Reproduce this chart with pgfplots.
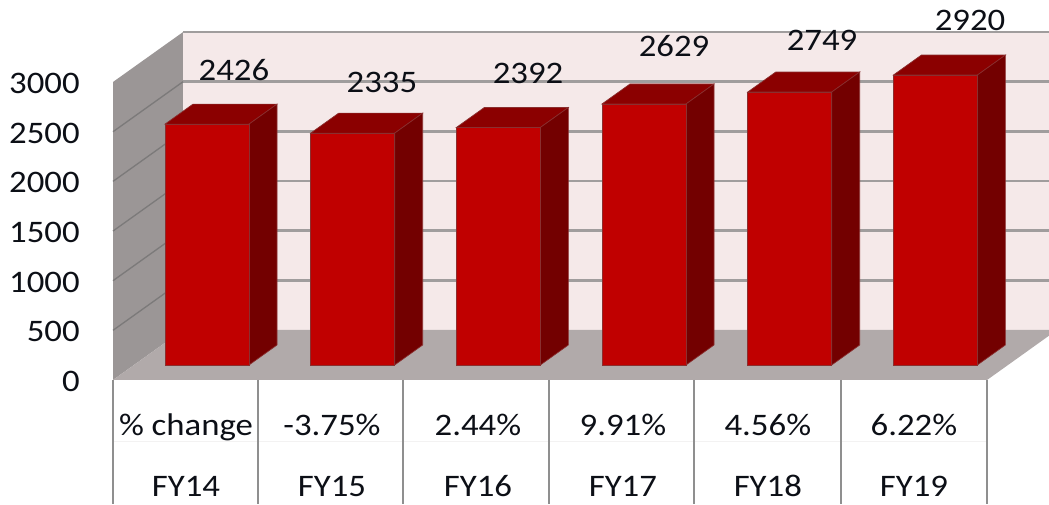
\documentclass[border=0pt]{standalone}
\usepackage{fontspec}
\setmainfont[FakeStretch=1.11]{Carlito}
\usepackage{pgfplots}
\usepackage{pgfplotstable}
\pgfplotsset{compat=1.18}

\definecolor{barfront}{HTML}{C00000}
\definecolor{bartop}{HTML}{8B0000}
\definecolor{barside}{HTML}{730000}
\definecolor{baredge}{HTML}{8A2F2F}
\definecolor{backwall}{HTML}{F5E9E9}
\definecolor{sidewall}{HTML}{9B9696}
\definecolor{floorc}{HTML}{B1AAAA}
\definecolor{gridc}{HTML}{A09D9D}
\definecolor{sidegrid}{HTML}{7C7A7A}
\definecolor{tablec}{HTML}{8F8F8F}
\definecolor{txt}{HTML}{0C0F16}

\pgfplotstableread{
x value
0 2426
1 2335
2 2392
3 2629
4 2749
5 2920
}\bardata

% shapes, in data units (145.67 px per category, 10.07 units per px)
\pgfplotstableread{
dx dy
-0.2883 0
0.2883 0
0.4805 201.4
-0.0961 201.4
}\topshape
\pgfplotstableread{
dx dy k
0.2883 0 0
0.4805 201.4 0
0.4805 201.4 1
0.2883 0 1
}\sideshape
\pgfplotstableread{
y
-151
-1400
}\vlineshape

\newcommand{\barfaces}[2]{%
  \addplot[fill=bartop, draw=baredge, line width=0.5pt]
    table[x expr=#1+\thisrow{dx}, y expr=#2+\thisrow{dy}] {\topshape} -- cycle;
  \addplot[fill=barside, draw=baredge, line width=0.5pt]
    table[x expr=#1+\thisrow{dx}, y expr=\thisrow{dy}+\thisrow{k}*#2] {\sideshape} -- cycle;
}

\begin{document}
\begin{tikzpicture}
\begin{axis}[
    scale only axis,
    width=786.75pt, height=378pt,
    xmin=-1.421, xmax=5.78,
    ymin=-1400, ymax=3675.7,
    axis line style={draw=none},
    tick style={draw=none},
    ytick={0,500,1000,1500,2000,2500,3000},
    /pgf/number format/assume math mode=true,
    /pgf/number format/1000 sep={},
    yticklabel style={anchor=east, inner sep=0pt, xshift=60pt, yshift=-12.4pt,
        font=\fontsize{23.5}{26}\selectfont, text=txt},
    xtick={-0.144,0.858,1.86,2.855,3.85,4.853},
    xticklabels={{\% change\\FY14},{-3.75\%\\FY15},{2.44\%\\FY16},{9.91\%\\FY17},{4.56\%\\FY18},{6.22\%\\FY19}},
    xticklabel style={anchor=south, align=center, inner sep=0pt, yshift=5.5pt,
        font=\fontsize{23.5}{45.75}\selectfont, text=txt},
]
% walls and floor
\addplot[fill=backwall, draw=none] coordinates {(-0.1648,352.5) (5.78,352.5) (5.78,3352.5) (-0.1648,3352.5)} -- cycle;
\addplot[fill=sidewall, draw=none] coordinates {(-0.6453,-151) (-0.1648,352.5) (-0.1648,3352.5) (-0.6453,2850)} -- cycle;
\addplot[fill=floorc, draw=none] coordinates {(-0.6453,-151) (5.3546,-151) (5.78,295) (5.78,352.5) (-0.1648,352.5)} -- cycle;

% gridlines
\pgfplotsinvokeforeach{852.5,1352.5,1852.5,2352.5,2852.5,3352.5}{
  \addplot[draw=gridc, line width=2pt] coordinates {(-0.1648,#1) (5.78,#1)};
}
\addplot[draw=sidegrid, line width=1pt] coordinates {(-0.6453,349) (-0.1648,852.5)};
\addplot[draw=sidegrid, line width=1pt] coordinates {(-0.6453,849) (-0.1648,1352.5)};
\addplot[draw=sidegrid, line width=1pt] coordinates {(-0.6453,1349) (-0.1648,1852.5)};
\addplot[draw=sidegrid, line width=1pt] coordinates {(-0.6453,1849) (-0.1648,2352.5)};
\addplot[draw=sidegrid, line width=1pt] coordinates {(-0.6453,2349) (-0.1648,2852.5)};

% table under the floor
\addplot[draw=floorc!15, line width=0.5pt] coordinates {(-0.6453,-770) (5.3546,-770)};
\pgfplotsinvokeforeach{-0.6453,0.3501,1.3455,2.3478,3.343,4.352,5.3546}{
  \addplot[draw=tablec, line width=1.3pt] table[x expr=#1, y=y] {\vlineshape};
}

% bars
\barfaces{0}{2426}
\barfaces{1}{2335}
\barfaces{2}{2392}
\barfaces{3}{2629}
\barfaces{4}{2749}
\barfaces{5}{2920}
\addplot[ybar, bar width=0.5766, bar shift=0pt, fill=barfront, draw=baredge, line width=0.5pt]
    table[x=x, y=value] {\bardata};

% value labels
\begin{scope}[every node/.style={font=\fontsize{23.5}{26}\selectfont, text=txt, inner sep=0pt}]
\node at (axis cs:0.185,2971) {2426};
\node at (axis cs:1.201,2850) {2335};
\node at (axis cs:2.204,2941) {2392};
\node at (axis cs:3.206,3212) {2629};
\node at (axis cs:4.222,3273) {2749};
\node at (axis cs:5.238,3474) {2920};
\end{scope}
\end{axis}
\end{tikzpicture}
\end{document}
